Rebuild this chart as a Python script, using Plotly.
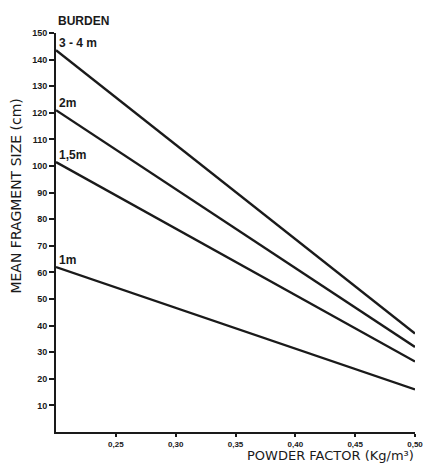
import plotly.graph_objects as go

powder_factor = [0.20, 0.50]
burden_labels = ["3 - 4 m", "2m", "1,5m", "1m"]
fragment_34m = [143.5, 37]
fragment_2m = [121, 32]
fragment_15m = [101.5, 26.5]
fragment_1m = [62, 16]
series = [fragment_34m, fragment_2m, fragment_15m, fragment_1m]

x_tickvals = [0.25, 0.30, 0.35, 0.40, 0.45, 0.50]
x_ticktext = ["0,25", "0,30", "0,35", "0,40", "0,45", "0,50"]
y_tickvals = list(range(10, 160, 10))

ink = "#1a1a1a"
font_family = "Liberation Sans, Arial, sans-serif"
title_family = "DejaVu Sans, Verdana, sans-serif"

fig = go.Figure()
for name, vals in zip(burden_labels, series):
    fig.add_trace(go.Scatter(x=powder_factor, y=vals, mode="lines",
                             line=dict(color=ink, width=2.4), name=name,
                             showlegend=False, hoverinfo="skip"))
    fig.add_annotation(x=powder_factor[0], y=vals[0], text="<b>%s</b>" % name,
                       xref="x", yref="y", xanchor="left", yanchor="bottom",
                       xshift=1, yshift=-2, showarrow=False,
                       font=dict(family=font_family, size=12, color=ink))

fig.add_annotation(x=0, y=1, xref="paper", yref="paper", text="<b>BURDEN</b>",
                   xanchor="left", yanchor="bottom", yshift=3, showarrow=False,
                   font=dict(family=font_family, size=12, color=ink))
fig.add_annotation(x=1.0, y=0, xref="paper", yref="paper",
                   text="POWDER FACTOR (Kg/m³)",
                   xanchor="right", yanchor="bottom", yshift=-32, showarrow=False,
                   borderpad=0,
                   font=dict(family=title_family, size=13, color=ink))
fig.add_annotation(x=0, y=0.59, xref="paper", yref="paper",
                   text="MEAN FRAGMENT SIZE (cm)", textangle=-90,
                   xanchor="center", yanchor="middle", xshift=-40, showarrow=False,
                   font=dict(family=title_family, size=14, color=ink))

fig.update_layout(
    width=434, height=463,
    margin=dict(l=56, r=11, t=33, b=31),
    paper_bgcolor="white", plot_bgcolor="white",
    font=dict(family=font_family, color=ink),
)
fig.update_xaxes(range=[0.20, 0.50], tickvals=x_tickvals, ticktext=x_ticktext,
                 ticks="outside", ticklen=3, tickwidth=1.5, tickcolor=ink,
                 showline=True, linecolor=ink, linewidth=2, showgrid=False,
                 zeroline=False, tickfont=dict(size=8, color=ink, family=font_family,
                                               weight="bold"))
fig.update_yaxes(range=[0, 150], tickvals=y_tickvals,
                 ticks="outside", ticklen=5, tickwidth=1.5, tickcolor=ink,
                 showline=True, linecolor=ink, linewidth=2, showgrid=False,
                 zeroline=False, tickfont=dict(size=9, color=ink, family=font_family,
                                               weight="bold"))

fig.write_html("out.html", config={"displayModeBar": False},
               post_script="document.body.style.margin='0';"
                           "document.body.style.overflow='hidden';")
